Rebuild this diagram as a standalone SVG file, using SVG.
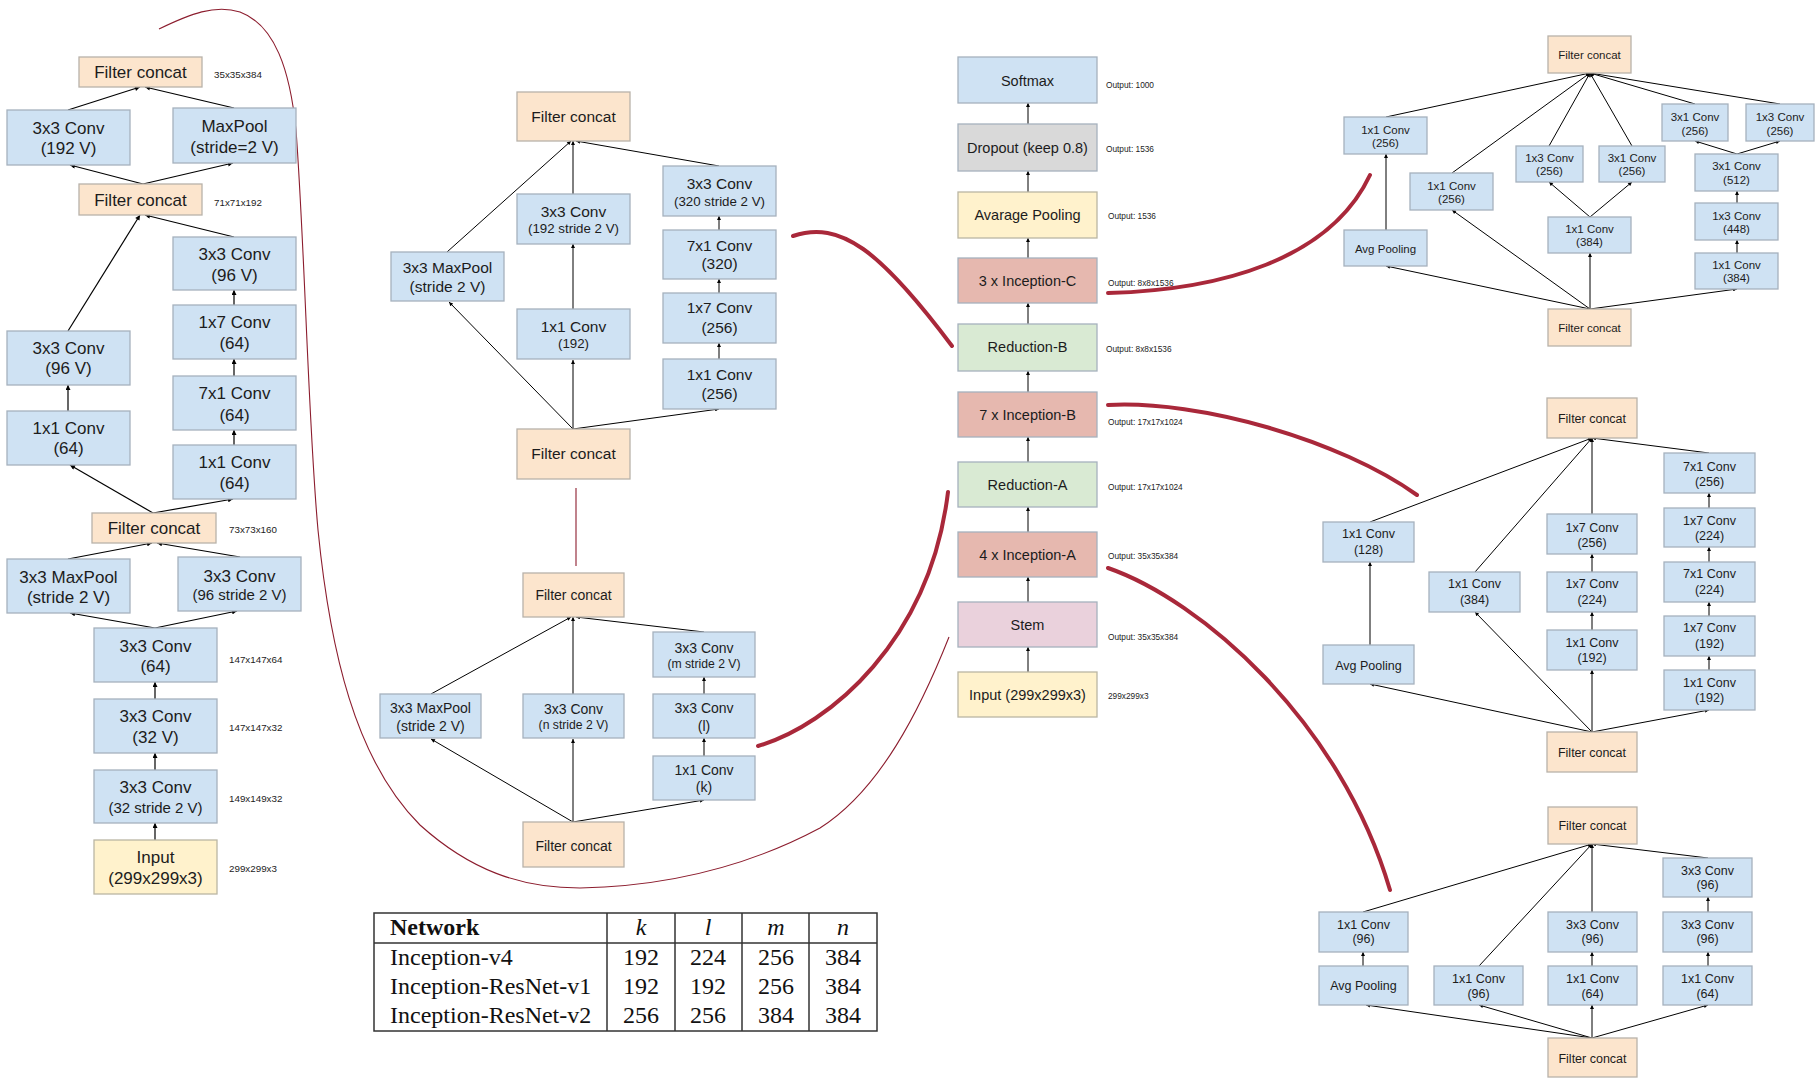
<svg xmlns="http://www.w3.org/2000/svg" width="1820" height="1086" viewBox="0 0 1820 1086">
<style>
rect{stroke:#a6b1bd;stroke-width:1.3}
.bg{fill:#fff;stroke:none}
.b{fill:#cfe2f3}.p{fill:#fce5cd;stroke:#b8b2aa}.y{fill:#fff2cc;stroke:#bab6a4}.r{fill:#e6b8af}.g{fill:#d9ead3}.m{fill:#ead1dc}.gr{fill:#d9d9d9}
text{font-family:"Liberation Sans",Arial,sans-serif;fill:#1c1c1c;text-anchor:middle}
.f17{font-size:17px}.f15{font-size:15px}.f155{font-size:15.5px}.f133{font-size:13.3px}.f14{font-size:14px}.f122{font-size:12.2px}.f145{font-size:14.5px}.f125{font-size:12.5px}.f115{font-size:11.5px}
.sl{font-size:9.8px;text-anchor:start}.ol{font-size:8.3px;text-anchor:start}
.c{stroke:#000;stroke-width:1.2;fill:none;marker-end:url(#ah)}
.cs{stroke:#000;stroke-width:1;fill:none;marker-end:url(#as)}
.rt{fill:none;stroke:#a9283a;stroke-width:4;stroke-linecap:round}
.rn{fill:none;stroke:#8c1d2e;stroke-width:1.1}
.tb{stroke:#333;stroke-width:1.5;fill:none}
.tt{font-family:"Liberation Serif","Times New Roman",serif;font-size:24px;fill:#111}
</style>
<defs>
<marker id="ah" viewBox="0 0 10 10" refX="10" refY="5" markerWidth="7" markerHeight="5" markerUnits="userSpaceOnUse" orient="auto"><path d="M0,0L10,5L0,10z" fill="#000"/></marker>
<marker id="as" viewBox="0 0 10 10" refX="10" refY="5" markerWidth="5.5" markerHeight="4" markerUnits="userSpaceOnUse" orient="auto"><path d="M0,0L10,5L0,10z" fill="#000"/></marker>
</defs>
<rect class="bg" x="0" y="0" width="1820" height="1086"/>

<!-- callout curves -->
<g id="callouts">
<path class="rn" d="M159,29 C190,14 215,4 240,12 C275,25 290,70 296,130 C305,250 308,420 318,530 C330,650 355,760 420,825 C470,870 520,888 580,888 C680,886 760,860 820,828 C880,790 920,710 949,637"/>
<line class="rn" x1="576" y1="488" x2="576" y2="566"/>
<path class="rt" d="M793,236 C840,220 880,250 952,346"/>
<path class="rt" d="M758,746 C830,725 930,640 948,492"/>
<path class="rt" d="M1108,293 C1220,290 1330,260 1370,175"/>
<path class="rt" d="M1108,405 C1200,400 1340,440 1417,495"/>
<path class="rt" d="M1108,568 C1200,600 1340,720 1390,890"/>
</g>

<!-- connectors -->
<g id="connectors">
<!-- stem -->
<line class="c" x1="68" y1="110" x2="140" y2="87"/>
<line class="c" x1="234" y1="108" x2="145" y2="87"/>
<line class="c" x1="143" y1="184" x2="70" y2="165"/>
<line class="c" x1="143" y1="184" x2="233" y2="163"/>
<line class="c" x1="68" y1="331" x2="140" y2="215"/>
<line class="c" x1="234" y1="237" x2="145" y2="215"/>
<line class="c" x1="234" y1="305" x2="234" y2="290"/>
<line class="c" x1="234" y1="376" x2="234" y2="359"/>
<line class="c" x1="234" y1="445" x2="234" y2="430"/>
<line class="c" x1="68" y1="411" x2="68" y2="385"/>
<line class="c" x1="153" y1="513" x2="70" y2="465"/>
<line class="c" x1="153" y1="513" x2="233" y2="499"/>
<line class="c" x1="68" y1="559" x2="152" y2="543"/>
<line class="c" x1="240" y1="557" x2="157" y2="543"/>
<line class="c" x1="155" y1="628" x2="70" y2="613"/>
<line class="c" x1="155" y1="628" x2="237" y2="611"/>
<line class="c" x1="155" y1="699" x2="155" y2="682"/>
<line class="c" x1="155" y1="770" x2="155" y2="753"/>
<line class="c" x1="155" y1="840" x2="155" y2="823"/>
<!-- reduction B -->
<line class="cs" x1="573" y1="429" x2="449" y2="302"/>
<line class="cs" x1="573" y1="429" x2="573" y2="360"/>
<line class="cs" x1="573" y1="429" x2="719" y2="409"/>
<line class="cs" x1="573" y1="309" x2="573" y2="244"/>
<line class="cs" x1="573" y1="194" x2="573" y2="141"/>
<line class="cs" x1="447" y1="252" x2="571" y2="141"/>
<line class="cs" x1="719" y1="166" x2="576" y2="141"/>
<line class="cs" x1="719" y1="230" x2="719" y2="216"/>
<line class="cs" x1="719" y1="293" x2="719" y2="279"/>
<line class="cs" x1="719" y1="359" x2="719" y2="343"/>
<!-- reduction A -->
<line class="cs" x1="573" y1="822" x2="431" y2="739"/>
<line class="cs" x1="573" y1="822" x2="573" y2="739"/>
<line class="cs" x1="573" y1="822" x2="704" y2="800"/>
<line class="cs" x1="431" y1="694" x2="571" y2="617"/>
<line class="cs" x1="573" y1="694" x2="573" y2="617"/>
<line class="cs" x1="704" y1="632" x2="576" y2="617"/>
<line class="cs" x1="704" y1="694" x2="704" y2="677"/>
<line class="cs" x1="704" y1="756" x2="704" y2="738"/>
<!-- center column -->
<line class="cs" x1="1028" y1="124" x2="1028" y2="103"/>
<line class="cs" x1="1028" y1="192" x2="1028" y2="171"/>
<line class="cs" x1="1028" y1="258" x2="1028" y2="238"/>
<line class="cs" x1="1028" y1="324" x2="1028" y2="303"/>
<line class="cs" x1="1028" y1="392" x2="1028" y2="371"/>
<line class="cs" x1="1028" y1="462" x2="1028" y2="437"/>
<line class="cs" x1="1028" y1="532" x2="1028" y2="507"/>
<line class="cs" x1="1028" y1="602" x2="1028" y2="577"/>
<line class="cs" x1="1028" y1="672" x2="1028" y2="647"/>
<!-- inception C -->
<line class="cs" x1="1386" y1="117" x2="1590" y2="73"/>
<line class="cs" x1="1452" y1="173" x2="1590" y2="73"/>
<line class="cs" x1="1549" y1="146" x2="1590" y2="73"/>
<line class="cs" x1="1632" y1="146" x2="1590" y2="73"/>
<line class="cs" x1="1695" y1="104" x2="1590" y2="73"/>
<line class="cs" x1="1780" y1="104" x2="1590" y2="73"/>
<line class="cs" x1="1386" y1="230" x2="1386" y2="154"/>
<line class="cs" x1="1590" y1="217" x2="1549" y2="182"/>
<line class="cs" x1="1590" y1="217" x2="1632" y2="182"/>
<line class="cs" x1="1737" y1="154" x2="1695" y2="141"/>
<line class="cs" x1="1737" y1="154" x2="1780" y2="141"/>
<line class="cs" x1="1737" y1="203" x2="1737" y2="191"/>
<line class="cs" x1="1737" y1="253" x2="1737" y2="240"/>
<line class="cs" x1="1590" y1="309" x2="1386" y2="266"/>
<line class="cs" x1="1590" y1="309" x2="1452" y2="210"/>
<line class="cs" x1="1590" y1="309" x2="1590" y2="253"/>
<line class="cs" x1="1590" y1="309" x2="1737" y2="289"/>
<!-- inception B -->
<line class="cs" x1="1370" y1="522" x2="1592" y2="438"/>
<line class="cs" x1="1475" y1="572" x2="1592" y2="438"/>
<line class="cs" x1="1592" y1="514" x2="1592" y2="438"/>
<line class="cs" x1="1709" y1="453" x2="1592" y2="438"/>
<line class="cs" x1="1370" y1="645" x2="1370" y2="562"/>
<line class="cs" x1="1592" y1="572" x2="1592" y2="554"/>
<line class="cs" x1="1592" y1="630" x2="1592" y2="612"/>
<line class="cs" x1="1709" y1="508" x2="1709" y2="493"/>
<line class="cs" x1="1709" y1="562" x2="1709" y2="547"/>
<line class="cs" x1="1709" y1="616" x2="1709" y2="602"/>
<line class="cs" x1="1709" y1="670" x2="1709" y2="656"/>
<line class="cs" x1="1592" y1="732" x2="1370" y2="684"/>
<line class="cs" x1="1592" y1="732" x2="1475" y2="612"/>
<line class="cs" x1="1592" y1="732" x2="1592" y2="670"/>
<line class="cs" x1="1592" y1="732" x2="1709" y2="710"/>
<!-- inception A -->
<line class="cs" x1="1363" y1="912" x2="1592" y2="844"/>
<line class="cs" x1="1479" y1="966" x2="1592" y2="844"/>
<line class="cs" x1="1592" y1="912" x2="1592" y2="844"/>
<line class="cs" x1="1708" y1="858" x2="1592" y2="844"/>
<line class="cs" x1="1363" y1="966" x2="1363" y2="952"/>
<line class="cs" x1="1592" y1="966" x2="1592" y2="952"/>
<line class="cs" x1="1708" y1="912" x2="1708" y2="897"/>
<line class="cs" x1="1708" y1="966" x2="1708" y2="952"/>
<line class="cs" x1="1592" y1="1038" x2="1366" y2="1005"/>
<line class="cs" x1="1592" y1="1038" x2="1479" y2="1005"/>
<line class="cs" x1="1592" y1="1038" x2="1592" y2="1005"/>
<line class="cs" x1="1592" y1="1038" x2="1708" y2="1005"/>
</g>

<!-- stem nodes -->
<g id="stem-fc1"><rect class="p" x="79" y="57" width="123" height="30"/><text class="f17" x="140.5" y="78">Filter concat</text></g>
<g id="stem-conv192v"><rect class="b" x="7" y="110" width="123" height="55"/><text class="f17" x="68.5" y="134">3x3 Conv</text><text class="f17" x="68.5" y="154">(192 V)</text></g>
<g id="stem-maxpool"><rect class="b" x="173" y="108" width="123" height="55"/><text class="f17" x="234.5" y="132">MaxPool</text><text class="f17" x="234.5" y="153">(stride=2 V)</text></g>
<g id="stem-fc2"><rect class="p" x="79" y="184" width="123" height="31"/><text class="f17" x="140.5" y="205.5">Filter concat</text></g>
<g id="stem-conv96v-r"><rect class="b" x="173" y="237" width="123" height="53"/><text class="f17" x="234.5" y="260">3x3 Conv</text><text class="f17" x="234.5" y="281">(96 V)</text></g>
<g id="stem-1x7"><rect class="b" x="173" y="305" width="123" height="54"/><text class="f17" x="234.5" y="328">1x7 Conv</text><text class="f17" x="234.5" y="349">(64)</text></g>
<g id="stem-7x1"><rect class="b" x="173" y="376" width="123" height="54"/><text class="f17" x="234.5" y="399">7x1 Conv</text><text class="f17" x="234.5" y="421">(64)</text></g>
<g id="stem-1x1-r"><rect class="b" x="173" y="445" width="123" height="54"/><text class="f17" x="234.5" y="468">1x1 Conv</text><text class="f17" x="234.5" y="489">(64)</text></g>
<g id="stem-conv96v-l"><rect class="b" x="7" y="331" width="123" height="54"/><text class="f17" x="68.5" y="354">3x3 Conv</text><text class="f17" x="68.5" y="374">(96 V)</text></g>
<g id="stem-1x1-l"><rect class="b" x="7" y="411" width="123" height="54"/><text class="f17" x="68.5" y="434">1x1 Conv</text><text class="f17" x="68.5" y="454">(64)</text></g>
<g id="stem-fc3"><rect class="p" x="92" y="513" width="124" height="30"/><text class="f17" x="154" y="534">Filter concat</text></g>
<g id="stem-maxpool2"><rect class="b" x="7" y="559" width="123" height="54"/><text class="f17" x="68.5" y="583">3x3 MaxPool</text><text class="f17" x="68.5" y="603">(stride 2 V)</text></g>
<g id="stem-conv96s2"><rect class="b" x="178" y="557" width="123" height="54"/><text class="f17" x="239.5" y="582">3x3 Conv</text><text class="f15" x="239.5" y="600">(96 stride 2 V)</text></g>
<g id="stem-conv64"><rect class="b" x="94" y="628" width="123" height="54"/><text class="f17" x="155.5" y="652">3x3 Conv</text><text class="f17" x="155.5" y="672">(64)</text></g>
<g id="stem-conv32v"><rect class="b" x="94" y="699" width="123" height="54"/><text class="f17" x="155.5" y="722">3x3 Conv</text><text class="f17" x="155.5" y="743">(32 V)</text></g>
<g id="stem-conv32s2"><rect class="b" x="94" y="770" width="123" height="53"/><text class="f17" x="155.5" y="793">3x3 Conv</text><text class="f15" x="155.5" y="813">(32 stride 2 V)</text></g>
<g id="stem-input"><rect class="y" x="94" y="840" width="123" height="54"/><text class="f17" x="155.5" y="863">Input</text><text class="f17" x="155.5" y="884">(299x299x3)</text></g>
<g id="stem-labels">
<text class="sl" x="214" y="77.5">35x35x384</text>
<text class="sl" x="214" y="205.5">71x71x192</text>
<text class="sl" x="229" y="532.5">73x73x160</text>
<text class="sl" x="229" y="662.5">147x147x64</text>
<text class="sl" x="229" y="730.5">147x147x32</text>
<text class="sl" x="229" y="801.5">149x149x32</text>
<text class="sl" x="229" y="871.5">299x299x3</text>
</g>

<!-- reduction B -->
<g id="redb-fc-top"><rect class="p" x="517" y="92" width="113" height="49"/><text class="f155" x="573.5" y="122">Filter concat</text></g>
<g id="redb-conv192s2"><rect class="b" x="517" y="194" width="113" height="50"/><text class="f155" x="573.5" y="217.4">3x3 Conv</text><text class="f133" x="573.5" y="232.7">(192 stride 2 V)</text></g>
<g id="redb-1x1-192"><rect class="b" x="517" y="309" width="113" height="50"/><text class="f155" x="573.5" y="332.4">1x1 Conv</text><text class="f133" x="573.5" y="347.7">(192)</text></g>
<g id="redb-maxpool"><rect class="b" x="391" y="252" width="113" height="49"/><text class="f155" x="447.5" y="273.4">3x3 MaxPool</text><text class="f155" x="447.5" y="292.4">(stride 2 V)</text></g>
<g id="redb-conv320s2"><rect class="b" x="663" y="166" width="113" height="50"/><text class="f155" x="719.5" y="189.4">3x3 Conv</text><text class="f133" x="719.5" y="205.7">(320 stride 2 V)</text></g>
<g id="redb-7x1"><rect class="b" x="663" y="230" width="113" height="49"/><text class="f155" x="719.5" y="251.4">7x1 Conv</text><text class="f155" x="719.5" y="269.4">(320)</text></g>
<g id="redb-1x7"><rect class="b" x="663" y="293" width="113" height="50"/><text class="f155" x="719.5" y="313.4">1x7 Conv</text><text class="f155" x="719.5" y="333.4">(256)</text></g>
<g id="redb-1x1-256"><rect class="b" x="663" y="359" width="113" height="50"/><text class="f155" x="719.5" y="380.4">1x1 Conv</text><text class="f155" x="719.5" y="399.4">(256)</text></g>
<g id="redb-fc-bottom"><rect class="p" x="517" y="429" width="113" height="50"/><text class="f155" x="573.5" y="459.4">Filter concat</text></g>

<!-- reduction A -->
<g id="reda-fc-top"><rect class="p" x="523" y="573" width="101" height="44"/><text class="f14" x="573.5" y="600">Filter concat</text></g>
<g id="reda-maxpool"><rect class="b" x="380" y="694" width="101" height="44"/><text class="f14" x="430.5" y="713">3x3 MaxPool</text><text class="f14" x="430.5" y="731">(stride 2 V)</text></g>
<g id="reda-conv-n"><rect class="b" x="523" y="694" width="101" height="44"/><text class="f14" x="573.5" y="714">3x3 Conv</text><text class="f122" x="573.5" y="729.3">(n stride 2 V)</text></g>
<g id="reda-conv-m"><rect class="b" x="653" y="632" width="102" height="45"/><text class="f14" x="704" y="653">3x3 Conv</text><text class="f122" x="704" y="668.3">(m stride 2 V)</text></g>
<g id="reda-conv-l"><rect class="b" x="653" y="694" width="102" height="44"/><text class="f14" x="704" y="713">3x3 Conv</text><text class="f14" x="704" y="731">(l)</text></g>
<g id="reda-conv-k"><rect class="b" x="653" y="756" width="102" height="44"/><text class="f14" x="704" y="775">1x1 Conv</text><text class="f14" x="704" y="792">(k)</text></g>
<g id="reda-fc-bottom"><rect class="p" x="523" y="822" width="101" height="45"/><text class="f14" x="573.5" y="851">Filter concat</text></g>

<!-- center column -->
<g id="softmax"><rect class="b" x="958" y="57" width="139" height="46"/><text class="f145" x="1027.5" y="86">Softmax</text></g>
<g id="dropout"><rect class="gr" x="958" y="124" width="139" height="47"/><text class="f145" x="1027.5" y="153">Dropout (keep 0.8)</text></g>
<g id="avgpool"><rect class="y" x="958" y="192" width="139" height="46"/><text class="f145" x="1027.5" y="220">Avarage Pooling</text></g>
<g id="inception-c-x3"><rect class="r" x="958" y="258" width="139" height="45"/><text class="f145" x="1027.5" y="286">3 x Inception-C</text></g>
<g id="reduction-b"><rect class="g" x="958" y="324" width="139" height="47"/><text class="f145" x="1027.5" y="352">Reduction-B</text></g>
<g id="inception-b-x7"><rect class="r" x="958" y="392" width="139" height="45"/><text class="f145" x="1027.5" y="420">7 x Inception-B</text></g>
<g id="reduction-a"><rect class="g" x="958" y="462" width="139" height="45"/><text class="f145" x="1027.5" y="490">Reduction-A</text></g>
<g id="inception-a-x4"><rect class="r" x="958" y="532" width="139" height="45"/><text class="f145" x="1027.5" y="560">4 x Inception-A</text></g>
<g id="stem"><rect class="m" x="958" y="602" width="139" height="45"/><text class="f145" x="1027.5" y="630">Stem</text></g>
<g id="input"><rect class="y" x="958" y="672" width="139" height="45"/><text class="f145" x="1027.5" y="700">Input (299x299x3)</text></g>
<g id="center-labels">
<text class="ol" x="1106" y="88">Output: 1000</text>
<text class="ol" x="1106" y="152">Output: 1536</text>
<text class="ol" x="1108" y="219">Output: 1536</text>
<text class="ol" x="1108" y="286">Output: 8x8x1536</text>
<text class="ol" x="1106" y="352">Output: 8x8x1536</text>
<text class="ol" x="1108" y="425">Output: 17x17x1024</text>
<text class="ol" x="1108" y="490">Output: 17x17x1024</text>
<text class="ol" x="1108" y="559">Output: 35x35x384</text>
<text class="ol" x="1108" y="640">Output: 35x35x384</text>
<text class="ol" x="1108" y="699">299x299x3</text>
</g>

<!-- inception C -->
<g id="incc-fc-top"><rect class="p" x="1548" y="36" width="83" height="37"/><text class="f115" x="1589.5" y="58.5">Filter concat</text></g>
<g id="incc-1x1-a"><rect class="b" x="1344" y="117" width="83" height="37"/><text class="f115" x="1385.5" y="134">1x1 Conv</text><text class="f115" x="1385.5" y="147">(256)</text></g>
<g id="incc-avgpool"><rect class="b" x="1344" y="230" width="83" height="36"/><text class="f115" x="1385.5" y="253">Avg Pooling</text></g>
<g id="incc-1x1-b"><rect class="b" x="1410" y="173" width="83" height="37"/><text class="f115" x="1451.5" y="190">1x1 Conv</text><text class="f115" x="1451.5" y="203">(256)</text></g>
<g id="incc-1x3-mid"><rect class="b" x="1516" y="146" width="67" height="36"/><text class="f115" x="1549.5" y="162">1x3 Conv</text><text class="f115" x="1549.5" y="175">(256)</text></g>
<g id="incc-3x1-mid"><rect class="b" x="1599" y="146" width="66" height="36"/><text class="f115" x="1632" y="162">3x1 Conv</text><text class="f115" x="1632" y="175">(256)</text></g>
<g id="incc-1x1-384-mid"><rect class="b" x="1548" y="217" width="83" height="36"/><text class="f115" x="1589.5" y="233">1x1 Conv</text><text class="f115" x="1589.5" y="246">(384)</text></g>
<g id="incc-3x1-top"><rect class="b" x="1662" y="104" width="66" height="37"/><text class="f115" x="1695" y="121">3x1 Conv</text><text class="f115" x="1695" y="135">(256)</text></g>
<g id="incc-1x3-top"><rect class="b" x="1746" y="104" width="68" height="37"/><text class="f115" x="1780" y="121">1x3 Conv</text><text class="f115" x="1780" y="135">(256)</text></g>
<g id="incc-3x1-512"><rect class="b" x="1695" y="154" width="83" height="37"/><text class="f115" x="1736.5" y="170">3x1 Conv</text><text class="f115" x="1736.5" y="184">(512)</text></g>
<g id="incc-1x3-448"><rect class="b" x="1695" y="203" width="83" height="37"/><text class="f115" x="1736.5" y="220">1x3 Conv</text><text class="f115" x="1736.5" y="233">(448)</text></g>
<g id="incc-1x1-384-r"><rect class="b" x="1695" y="253" width="83" height="36"/><text class="f115" x="1736.5" y="269">1x1 Conv</text><text class="f115" x="1736.5" y="282">(384)</text></g>
<g id="incc-fc-bottom"><rect class="p" x="1548" y="309" width="83" height="37"/><text class="f115" x="1589.5" y="332">Filter concat</text></g>

<!-- inception B -->
<g id="incb-fc-top"><rect class="p" x="1547" y="398" width="90" height="40"/><text class="f125" x="1592" y="423">Filter concat</text></g>
<g id="incb-1x1-128"><rect class="b" x="1323" y="522" width="91" height="40"/><text class="f125" x="1368.5" y="538.4">1x1 Conv</text><text class="f125" x="1368.5" y="554.4">(128)</text></g>
<g id="incb-avgpool"><rect class="b" x="1323" y="645" width="91" height="39"/><text class="f125" x="1368.5" y="670">Avg Pooling</text></g>
<g id="incb-1x1-384"><rect class="b" x="1429" y="572" width="91" height="40"/><text class="f125" x="1474.5" y="588.4">1x1 Conv</text><text class="f125" x="1474.5" y="604.4">(384)</text></g>
<g id="incb-1x7-256"><rect class="b" x="1547" y="514" width="90" height="40"/><text class="f125" x="1592" y="532.4">1x7 Conv</text><text class="f125" x="1592" y="547.4">(256)</text></g>
<g id="incb-1x7-224-mid"><rect class="b" x="1547" y="572" width="90" height="40"/><text class="f125" x="1592" y="588.4">1x7 Conv</text><text class="f125" x="1592" y="604.4">(224)</text></g>
<g id="incb-1x1-192-mid"><rect class="b" x="1547" y="630" width="90" height="40"/><text class="f125" x="1592" y="647.4">1x1 Conv</text><text class="f125" x="1592" y="662.4">(192)</text></g>
<g id="incb-7x1-256"><rect class="b" x="1664" y="453" width="91" height="40"/><text class="f125" x="1709.5" y="471.4">7x1 Conv</text><text class="f125" x="1709.5" y="486.4">(256)</text></g>
<g id="incb-1x7-224-r"><rect class="b" x="1664" y="508" width="91" height="39"/><text class="f125" x="1709.5" y="525.4">1x7 Conv</text><text class="f125" x="1709.5" y="540.4">(224)</text></g>
<g id="incb-7x1-224"><rect class="b" x="1664" y="562" width="91" height="40"/><text class="f125" x="1709.5" y="578.4">7x1 Conv</text><text class="f125" x="1709.5" y="594.4">(224)</text></g>
<g id="incb-1x7-192"><rect class="b" x="1664" y="616" width="91" height="40"/><text class="f125" x="1709.5" y="632.4">1x7 Conv</text><text class="f125" x="1709.5" y="648.4">(192)</text></g>
<g id="incb-1x1-192-r"><rect class="b" x="1664" y="670" width="91" height="40"/><text class="f125" x="1709.5" y="687.4">1x1 Conv</text><text class="f125" x="1709.5" y="702.4">(192)</text></g>
<g id="incb-fc-bottom"><rect class="p" x="1547" y="732" width="90" height="40"/><text class="f125" x="1592" y="757">Filter concat</text></g>

<!-- inception A -->
<g id="inca-fc-top"><rect class="p" x="1548" y="807" width="89" height="37"/><text class="f125" x="1592.5" y="830">Filter concat</text></g>
<g id="inca-1x1-96-a"><rect class="b" x="1319" y="912" width="89" height="40"/><text class="f125" x="1363.5" y="929.4">1x1 Conv</text><text class="f125" x="1363.5" y="943.4">(96)</text></g>
<g id="inca-avgpool"><rect class="b" x="1319" y="966" width="89" height="39"/><text class="f125" x="1363.5" y="990">Avg Pooling</text></g>
<g id="inca-1x1-96-b"><rect class="b" x="1434" y="966" width="89" height="39"/><text class="f125" x="1478.5" y="983.4">1x1 Conv</text><text class="f125" x="1478.5" y="998.4">(96)</text></g>
<g id="inca-3x3-mid"><rect class="b" x="1548" y="912" width="89" height="40"/><text class="f125" x="1592.5" y="929.4">3x3 Conv</text><text class="f125" x="1592.5" y="943.4">(96)</text></g>
<g id="inca-1x1-64-mid"><rect class="b" x="1548" y="966" width="89" height="39"/><text class="f125" x="1592.5" y="983.4">1x1 Conv</text><text class="f125" x="1592.5" y="998.4">(64)</text></g>
<g id="inca-3x3-top"><rect class="b" x="1663" y="858" width="89" height="39"/><text class="f125" x="1707.5" y="875.4">3x3 Conv</text><text class="f125" x="1707.5" y="889.4">(96)</text></g>
<g id="inca-3x3-r"><rect class="b" x="1663" y="912" width="89" height="40"/><text class="f125" x="1707.5" y="929.4">3x3 Conv</text><text class="f125" x="1707.5" y="943.4">(96)</text></g>
<g id="inca-1x1-64-r"><rect class="b" x="1663" y="966" width="89" height="39"/><text class="f125" x="1707.5" y="983.4">1x1 Conv</text><text class="f125" x="1707.5" y="998.4">(64)</text></g>
<g id="inca-fc-bottom"><rect class="p" x="1548" y="1038" width="89" height="39"/><text class="f125" x="1592.5" y="1063">Filter concat</text></g>

<!-- table -->
<g id="table">
<rect class="tb" x="374" y="913" width="503" height="118"/>
<line class="tb" x1="374" y1="943" x2="877" y2="943"/>
<line class="tb" x1="607" y1="913" x2="607" y2="1031"/>
<line class="tb" x1="675" y1="913" x2="675" y2="1031"/>
<line class="tb" x1="742" y1="913" x2="742" y2="1031"/>
<line class="tb" x1="809" y1="913" x2="809" y2="1031"/>
<text class="tt" x="390" y="935" style="text-anchor:start;font-weight:bold">Network</text>
<text class="tt" x="641" y="935" style="font-style:italic">k</text>
<text class="tt" x="708" y="935" style="font-style:italic">l</text>
<text class="tt" x="776" y="935" style="font-style:italic">m</text>
<text class="tt" x="843" y="935" style="font-style:italic">n</text>
<text class="tt" x="390" y="965" style="text-anchor:start">Inception-v4</text>
<text class="tt" x="641" y="965">192</text><text class="tt" x="708" y="965">224</text><text class="tt" x="776" y="965">256</text><text class="tt" x="843" y="965">384</text>
<text class="tt" x="390" y="994" style="text-anchor:start">Inception-ResNet-v1</text>
<text class="tt" x="641" y="994">192</text><text class="tt" x="708" y="994">192</text><text class="tt" x="776" y="994">256</text><text class="tt" x="843" y="994">384</text>
<text class="tt" x="390" y="1023" style="text-anchor:start">Inception-ResNet-v2</text>
<text class="tt" x="641" y="1023">256</text><text class="tt" x="708" y="1023">256</text><text class="tt" x="776" y="1023">384</text><text class="tt" x="843" y="1023">384</text>
</g>
</svg>
